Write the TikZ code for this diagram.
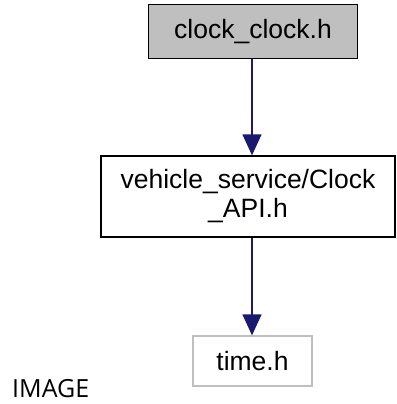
\documentclass[tikz,border=0pt]{standalone}
\usepackage{fontspec}
\setmainfont{Liberation Sans}
\newfontfamily\capfont{Open Sans}
\usetikzlibrary{arrows.meta}
\definecolor{edgeblue}{HTML}{191970}
\definecolor{boxgray}{HTML}{BFBFBF}
\tikzset{
  filebox/.style={draw=black, line width=1.3pt, inner sep=0pt, align=center, font=\fontsize{26.5}{29}\selectfont},
  extbox/.style={draw=boxgray, line width=1.3pt, fill=white, inner sep=0pt, font=\fontsize{26.5}{29}\selectfont},
  dep/.style={draw=edgeblue, line width=1.3pt, -{Triangle[length=21pt, width=19pt]}}
}
\begin{document}
\begin{tikzpicture}[x=1pt, y=-1pt]
\useasboundingbox (0,0) rectangle (396,404);
\node[filebox, fill=boxgray, minimum width=209pt, minimum height=54pt] (a) at (253,31.5) {clock\_clock.h};
\node[filebox, fill=white, minimum width=294pt, minimum height=81pt] (b) at (248,196.5) {vehicle\_service/Clock\\\_API.h};
\node[extbox, minimum width=119pt, minimum height=50pt] (c) at (252.5,361) {time.h};
\node[font=\capfont\fontsize{25}{25}\selectfont, anchor=base west, inner sep=0pt] (img) at (12,397) {IMAGE};
\draw[dep] (a.south -| 252,0) -- (b.north -| 252,0);
\draw[dep] (b.south -| 252,0) -- (c.north -| 252,0);
\end{tikzpicture}
\end{document}
